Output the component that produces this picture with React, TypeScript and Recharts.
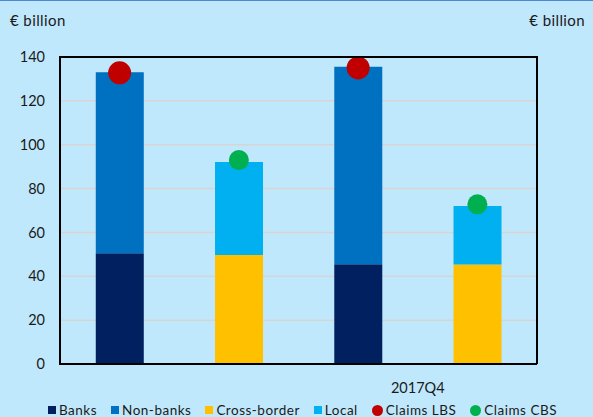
import { ComposedChart, Bar, Line, XAxis, YAxis, CartesianGrid } from "recharts";

const categories = ["LBS 2017Q3", "CBS 2017Q3", "LBS 2017Q4", "CBS 2017Q4"];
const banks = [50.5, null, 45.5, null];
const nonBanks = [82.5, null, 90, null];
const crossBorder = [null, 49.7, null, 45.4];
const local = [null, 42.4, null, 26.6];
const claimsLBS = [132.8, null, 135, null];
const claimsCBS = [null, 93, null, 72.8];
const periodLabels = ["", "2017Q4"];
const yTicks = [0, 20, 40, 60, 80, 100, 120, 140];

const legendItems = [
  { name: "Banks", color: "#002060", shape: "square" },
  { name: "Non-banks", color: "#0070c0", shape: "square" },
  { name: "Cross-border", color: "#ffc000", shape: "square" },
  { name: "Local", color: "#00b0f0", shape: "square" },
  { name: "Claims LBS", color: "#c00000", shape: "circle" },
  { name: "Claims CBS", color: "#00b050", shape: "circle" },
];

const data = categories.map((c, i) => ({
  cat: c,
  idx: i + 0.5,
  banks: banks[i],
  nonBanks: nonBanks[i],
  crossBorder: crossBorder[i],
  local: local[i],
  lbs: claimsLBS[i],
  cbs: claimsCBS[i],
}));

const font = "Lato, 'Noto Sans', sans-serif";
const tickStyle = { fill: "#1a1a1a", fontSize: 14.5, fontFamily: font };
const frame = { stroke: "#000", strokeWidth: 2 };

export default function App() {
  return (
    <div
      style={{
        position: "absolute",
        left: 0,
        top: 0,
        width: 593,
        height: 417,
        background: "#c0e8fc",
        borderTop: "1px solid #4f86d4",
        boxSizing: "border-box",
        fontFamily: font,
        color: "#1a1a1a",
      }}
    >
      <div style={{ position: "absolute", left: 10, top: 10, fontSize: 15, letterSpacing: 0.4 }}>€ billion</div>
      <div style={{ position: "absolute", right: 8, top: 10, fontSize: 15, letterSpacing: 0.4 }}>€ billion</div>
      <div style={{ position: "absolute", left: 0, top: -1 }}>
        <ComposedChart
          width={593}
          height={417}
          data={data}
          margin={{ top: 57, right: 0, left: 0, bottom: 30 }}
          barCategoryGap="30%"
        >
          <CartesianGrid vertical={false} stroke="#d9d4d4" strokeWidth={1.5} yAxisId="left" />
          <XAxis xAxisId="cat" dataKey="cat" hide height={0} />
          <XAxis
            xAxisId="period"
            type="number"
            dataKey="idx"
            domain={[0, 4]}
            ticks={[1, 3]}
            tickFormatter={(v: number) => periodLabels[(v - 1) / 2]}
            axisLine={frame}
            tickLine={false}
            tick={tickStyle}
            tickMargin={13}
            height={23}
            allowDataOverflow
          />
          <YAxis
            yAxisId="left"
            domain={[0, 140]}
            ticks={yTicks}
            axisLine={frame}
            tickLine={false}
            tick={tickStyle}
            tickMargin={9}
            width={60}
          />
          <YAxis
            yAxisId="right"
            orientation="right"
            domain={[0, 140]}
            ticks={yTicks}
            axisLine={frame}
            tickLine={false}
            tick={{ ...tickStyle, textAnchor: "start" }}
            tickMargin={10}
            width={56}
          />
          <Bar xAxisId="cat" yAxisId="left" dataKey="banks" stackId="a" fill="#002060" isAnimationActive={false} />
          <Bar xAxisId="cat" yAxisId="left" dataKey="nonBanks" stackId="a" fill="#0070c0" isAnimationActive={false} />
          <Bar xAxisId="cat" yAxisId="left" dataKey="crossBorder" stackId="a" fill="#ffc000" isAnimationActive={false} />
          <Bar xAxisId="cat" yAxisId="left" dataKey="local" stackId="a" fill="#00b0f0" isAnimationActive={false} />
          <Line
            xAxisId="cat"
            yAxisId="left"
            dataKey="lbs"
            stroke="none"
            dot={{ r: 11.5, fill: "#c00000", stroke: "none" }}
            activeDot={false}
            isAnimationActive={false}
          />
          <Line
            xAxisId="cat"
            yAxisId="left"
            dataKey="cbs"
            stroke="none"
            dot={{ r: 10, fill: "#00b050", stroke: "none" }}
            activeDot={false}
            isAnimationActive={false}
          />
        </ComposedChart>
        {/* frame edges that the axes do not draw */}
        <div style={{ position: "absolute", left: 59, top: 56, width: 479, height: 2, background: "#000" }} />
        <div style={{ position: "absolute", left: 59, top: 56, width: 2, height: 309, background: "#000" }} />
      </div>
      <div
        style={{
          position: "absolute",
          left: 48,
          top: 401,
          display: "flex",
          alignItems: "center",
          fontSize: 13.5,
          letterSpacing: 0.5,
          whiteSpace: "nowrap",
        }}
      >
        {legendItems.map((it) => (
          <div key={it.name} style={{ display: "flex", alignItems: "center", marginRight: 14 }}>
            <span
              style={{
                display: "inline-block",
                width: it.shape === "circle" ? 11 : 8,
                height: it.shape === "circle" ? 11 : 8,
                borderRadius: it.shape === "circle" ? "50%" : 0,
                background: it.color,
                marginRight: 3,
              }}
            />
            <span>{it.name}</span>
          </div>
        ))}
      </div>
    </div>
  );
}
